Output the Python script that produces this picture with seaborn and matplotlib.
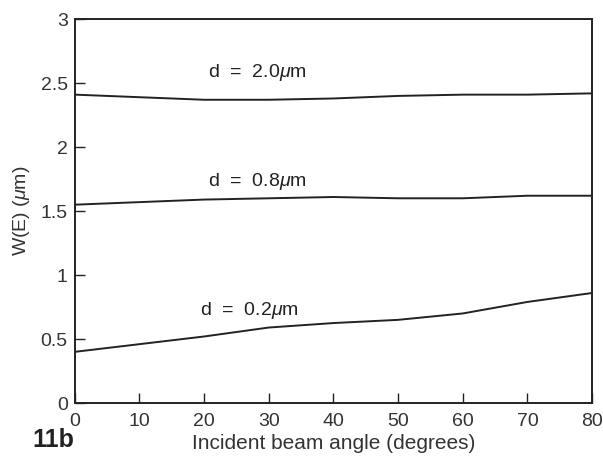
import matplotlib
matplotlib.use("Agg")
import matplotlib.pyplot as plt
import seaborn as sns
import pandas as pd

# angles (degrees)
angles = [0, 10, 20, 30, 40, 50, 60, 70, 80]

# W(E) curves (um)
w_d20 = [2.41, 2.39, 2.37, 2.37, 2.38, 2.40, 2.41, 2.41, 2.42]
w_d08 = [1.55, 1.57, 1.59, 1.60, 1.61, 1.60, 1.60, 1.62, 1.62]
w_d02 = [0.40, 0.46, 0.52, 0.59, 0.625, 0.65, 0.70, 0.79, 0.86]

curve_labels = ["d  =  2.0$\\mu$m", "d  =  0.8$\\mu$m", "d  =  0.2$\\mu$m"]
label_pos = [(28.3, 2.58), (28.3, 1.73), (27.0, 0.72)]

xticks = [0, 10, 20, 30, 40, 50, 60, 70, 80]
yticks = [0, 0.5, 1, 1.5, 2, 2.5, 3]
ytick_labels = ["0", "0.5", "1", "1.5", "2", "2.5", "3"]

sns.set_theme(style="white")
plt.rcParams['font.family'] = ['Liberation Sans', 'DejaVu Sans']
plt.rcParams['mathtext.fontset'] = 'custom'
plt.rcParams['mathtext.it'] = 'Liberation Sans:italic'
plt.rcParams['mathtext.rm'] = 'Liberation Sans'

df = pd.concat([
    pd.DataFrame({'angle': angles, 'w': w_d20, 'curve': curve_labels[0]}),
    pd.DataFrame({'angle': angles, 'w': w_d08, 'curve': curve_labels[1]}),
    pd.DataFrame({'angle': angles, 'w': w_d02, 'curve': curve_labels[2]}),
], ignore_index=True)

fig = plt.figure(figsize=(6.03, 4.67), dpi=100)
ax = fig.add_axes([0.124, 0.137, 0.858, 0.822])

sns.lineplot(data=df, x='angle', y='w', units='curve', estimator=None,
             color='#222222', linewidth=1.4, ax=ax, legend=False)

for text, (lx, ly) in zip(curve_labels, label_pos):
    ax.text(lx, ly, text, ha='center', va='center', fontsize=14, color='#222222')

ax.set_xlim(0, 80)
ax.set_ylim(0, 3)
ax.set_xticks(xticks)
ax.set_yticks(yticks)
ax.set_yticklabels(ytick_labels)
ax.tick_params(axis='both', direction='in', length=7, width=1, colors='#222222',
               labelsize=14, labelcolor='#333333', pad=5,
               bottom=True, left=True, top=False, right=False)
ax.tick_params(axis='x', pad=7)
for s in ax.spines.values():
    s.set_color('#222222')
    s.set_linewidth(1.4)

ax.set_xlabel('Incident beam angle (degrees)', fontsize=15, color='#333333', labelpad=3)
ax.set_ylabel('W(E) ($\\mu$m)', fontsize=14, color='#333333', labelpad=6)

fig.text(0.053, 0.058, '11b', fontsize=18, fontweight='bold', color='#222222',
         ha='left', va='center')

fig.savefig('out.png', dpi=100)
